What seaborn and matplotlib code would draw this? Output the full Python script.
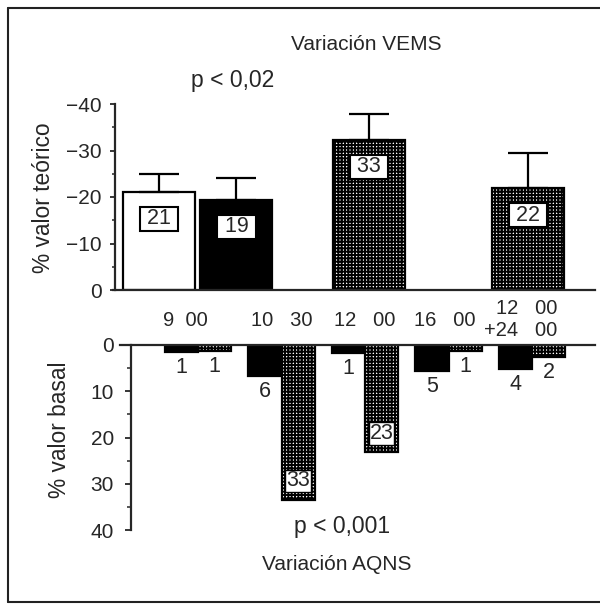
import numpy as np
import pandas as pd
import matplotlib
matplotlib.use("Agg")
import matplotlib.pyplot as plt
from matplotlib.lines import Line2D
import seaborn as sns

# ---------------- data ----------------
top_styles = ["blanco", "negro", "trama", "trama"]
top_values = [-21.1, -19.4, -32.3, -21.9]
top_errors = [3.9, 4.7, 5.6, 7.5]
top_labels = ["21", "19", "33", "22"]

times = ["9  00", "10   30", "12   00", "16   00", "12   00\n+24   00"]
black_vals = [1.45, 6.7, 1.67, 5.65, 5.2]
check_vals = [1.3, 33.5, 23.2, 1.3, 2.5]
black_labels = ["1", "6", "1", "5", "4"]
check_labels = ["1", "33", "23", "1", "2"]
check_boxed = [False, True, True, False, False]

# ---------------- layout ----------------
W, H = 600, 604
PX, X0 = 83.5, 198.0


def slot(px):
    return (px - X0) / PX


def rect(l, t, r, b):
    return [l / W, 1 - b / H, (r - l) / W, (b - t) / H]


top_slots = [-0.47, 0.46, 2.05, 3.95]
label_shift = [-0.15, 0.0, 0.0, -0.04, -0.14]
NUM_FS = 15.5
TICK_FS = 15

sns.set_style("ticks")
plt.rcParams["font.family"] = ["Liberation Sans", "DejaVu Sans"]
plt.rcParams["hatch.linewidth"] = 1.4
HATCH = "+++++"

fig = plt.figure(figsize=(W / 100, H / 100), dpi=100)
ax1 = fig.add_axes(rect(113, 104, 595, 290))
ax2 = fig.add_axes(rect(120, 345, 595, 530))
for ax in (ax1, ax2):
    ax.set_facecolor("none")

# ---------------- top panel ----------------
df_top = pd.DataFrame({"pos": top_slots, "val": top_values, "style": top_styles})
sns.barplot(data=df_top, x="pos", y="val", hue="style",
            hue_order=["blanco", "negro", "trama"],
            palette={"blanco": "white", "negro": "black", "trama": "white"},
            native_scale=True, width=0.927, saturation=1, dodge=False,
            edgecolor="black", linewidth=1.6, legend=False, errorbar=None, ax=ax1)
for p in ax1.patches:
    cx = p.get_x() + p.get_width() / 2
    i = int(np.argmin([abs(cx - s) for s in top_slots]))
    if top_styles[i] == "trama":
        p.set_hatch(HATCH)
ax1.errorbar(top_slots, top_values, yerr=[top_errors, np.zeros(len(top_errors))],
             fmt="none", ecolor="black", elinewidth=1.6, capsize=14.5, capthick=1.6, zorder=3)
for x, v, lab in zip(top_slots, top_values, top_labels):
    ax1.text(x, v + 5.8, " " + lab + " ", ha="center", va="center", fontsize=NUM_FS, zorder=5,
             bbox=dict(boxstyle="square,pad=0.06", fc="white", ec="black", lw=1.5))

ax1.set_ylim(0, -40)
ax1.set_xlim(slot(113), slot(595))
ax1.set_xticks([])
ax1.set_xlabel("")
ax1.set_ylabel("")
ax1.set_yticks([0, -10, -20, -30, -40])
ax1.set_yticks([-5, -15, -25, -35], minor=True)
ax1.spines["top"].set_visible(False)
ax1.spines["right"].set_visible(False)
ax1.spines["left"].set_position(("data", slot(115)))
for s in ("left", "bottom"):
    ax1.spines[s].set_linewidth(1.6)
ax1.tick_params(axis="y", which="major", length=3.6, width=1.3, pad=6, labelsize=TICK_FS)
ax1.tick_params(axis="y", which="minor", length=2.2, width=1.1)

# ---------------- bottom panel ----------------
df_bot = pd.DataFrame({
    "time": times * 2,
    "serie": ["negro"] * len(times) + ["trama"] * len(times),
    "val": black_vals + check_vals,
})
sns.barplot(data=df_bot, x="time", y="val", hue="serie", order=times,
            hue_order=["negro", "trama"],
            palette={"negro": "black", "trama": "white"}, saturation=1,
            width=0.8, edgecolor="black", linewidth=1.6, legend=False,
            errorbar=None, ax=ax2)
for p in ax2.patches:
    if p.get_facecolor()[0] > 0.5:
        p.set_hatch(HATCH)

for i, (v, lab) in enumerate(zip(black_vals, black_labels)):
    ax2.text(i - 0.2, v + 3.4, lab, ha="center", va="center", fontsize=NUM_FS)
for i, (v, lab, bx) in enumerate(zip(check_vals, check_labels, check_boxed)):
    if bx:
        ax2.text(i + 0.2, v - 4.1, lab, ha="center", va="center", fontsize=NUM_FS, zorder=5,
                 bbox=dict(boxstyle="square,pad=0.04", fc="white", ec="black", lw=1.0))
    else:
        ax2.text(i + 0.2, v + 3.4, lab, ha="center", va="center", fontsize=NUM_FS)

ax2.set_ylim(40, 0)
ax2.set_xlim(slot(120), slot(595))
ax2.set_xlabel("")
ax2.set_ylabel("")
ax2.set_yticks([0, 10, 20, 30, 40])
ax2.set_yticks([5, 15, 25, 35], minor=True)
ax2.xaxis.set_ticks_position("top")
ax2.set_xticks([i + d for i, d in enumerate(label_shift)])
ax2.set_xticklabels(times, multialignment="right")
for lbl in ax2.get_xticklabels():
    lbl.set_va("center")
ax2.tick_params(axis="x", length=0, pad=18, labelsize=14.5)
ax2.spines["bottom"].set_visible(False)
ax2.spines["right"].set_visible(False)
ax2.spines["left"].set_position(("data", slot(131)))
for s in ("left", "top"):
    ax2.spines[s].set_linewidth(1.6)
ax2.tick_params(axis="y", which="major", length=4.3, width=1.3, pad=8, labelsize=TICK_FS)
ax2.tick_params(axis="y", which="minor", length=2.8, width=1.1)

# ---------------- texts ----------------
fig.text(366 / W, 1 - 44 / H, "Variación VEMS", ha="center", va="center", fontsize=15)
fig.text(233 / W, 1 - 80 / H, "p < 0,02", ha="center", va="center", fontsize=16.5)
fig.text(342 / W, 1 - 527 / H, "p < 0,001", ha="center", va="center", fontsize=16.5)
fig.text(337 / W, 1 - 564 / H, "Variación AQNS", ha="center", va="center", fontsize=15)
fig.text(44 / W, 1 - 198 / H, "% valor teórico", rotation=90, ha="center", va="center", fontsize=16.4)
fig.text(60 / W, 1 - 430 / H, "% valor basal", rotation=90, ha="center", va="center", fontsize=16.4)

# ---------------- frame ----------------
for xs, ys in [([8, 8], [8, 602]), ([8, 600], [8, 8]), ([8, 600], [602, 602])]:
    fig.add_artist(Line2D([x / W for x in xs], [1 - y / H for y in ys],
                          transform=fig.transFigure, color="#222222", lw=1.5))

fig.savefig("out.png", dpi=100)
